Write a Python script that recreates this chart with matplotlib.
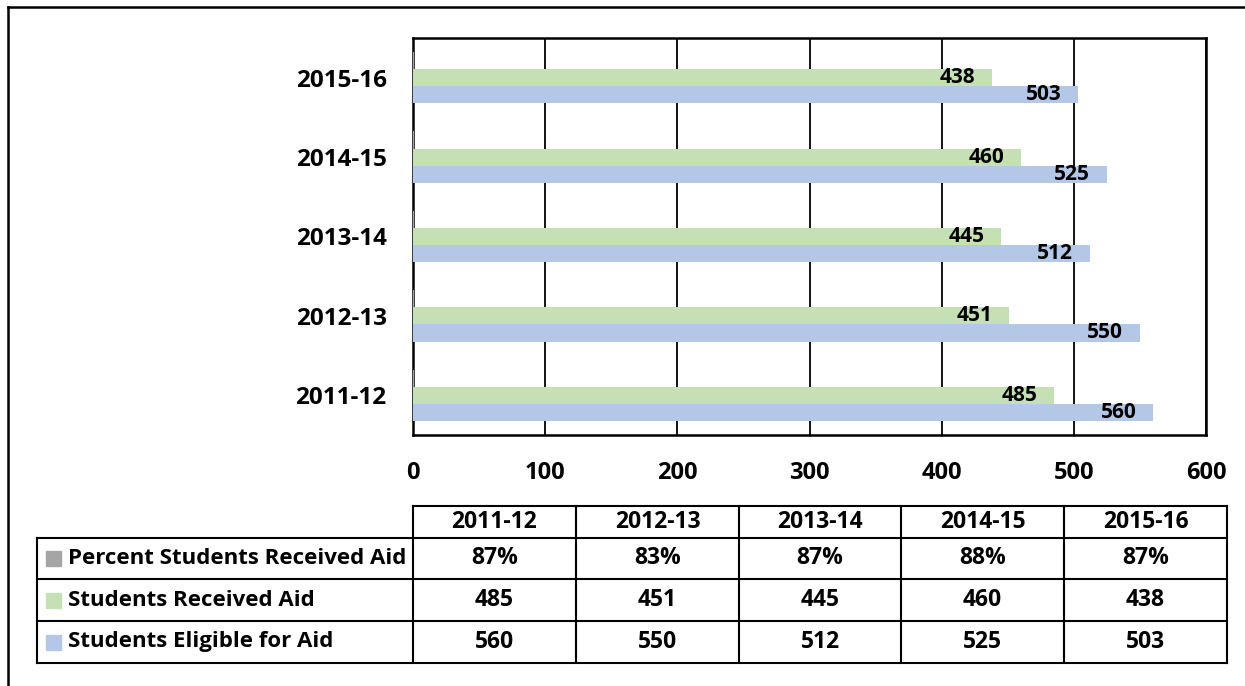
import matplotlib
matplotlib.use("Agg")
import matplotlib.pyplot as plt
from matplotlib.lines import Line2D
from matplotlib.patches import Rectangle

plt.rcParams['font.family'] = ['Open Sans', 'DejaVu Sans']
plt.rcParams['font.weight'] = 'bold'

### data ###
years = ['2011-12', '2012-13', '2013-14', '2014-15', '2015-16']
pct_aid = [0.87, 0.83, 0.87, 0.88, 0.87]
received = [485, 451, 445, 460, 438]
eligible = [560, 550, 512, 525, 503]
pct_labels = ['87%', '83%', '87%', '88%', '87%']

series_names = ['Percent Students Received Aid', 'Students Received Aid', 'Students Eligible for Aid']
c_grey = '#a5a5a5'
c_green = '#c5e0b4'
c_blue = '#b4c7e7'

W, H = 1245, 686
fig = plt.figure(figsize=(W / 100, H / 100), dpi=100)

### bar chart ###
ax = fig.add_axes([413 / W, 1 - 435 / H, 793 / W, 397 / H])
pos = list(range(len(years)))
h = 0.215
ax.barh([p + h for p in pos], pct_aid, height=h, color=c_grey, zorder=3)
b_green = ax.barh(pos, received, height=h, color=c_green, zorder=3)
b_blue = ax.barh([p - h for p in pos], eligible, height=h, color=c_blue, zorder=3)

for bars, vals in [(b_green, received), (b_blue, eligible)]:
    for b, v in zip(bars, vals):
        ax.annotate(str(v), (v, b.get_y() + b.get_height() / 2), xytext=(-12, 0),
                    textcoords='offset points', ha='right', va='center',
                    fontsize=15, fontweight='bold', zorder=4)

ax.set_xlim(0, 600)
ax.set_ylim(-0.5, 4.5)
ax.set_xticks(range(0, 601, 100))
ax.set_yticks(pos)
ax.set_yticklabels(years)
ax.tick_params(axis='y', length=0, labelsize=17.5, pad=19)
ax.tick_params(axis='x', length=0, labelsize=17, pad=19)
for lab in ax.get_xticklabels() + ax.get_yticklabels():
    lab.set_fontweight('bold')
ax.xaxis.grid(True, color='black', linewidth=1.3, zorder=1)
for s in ax.spines.values():
    s.set_linewidth(1.8)
    s.set_color('black')

### data table below the chart ###
tb = fig.add_axes([0, 0, 1, 1], zorder=5)
tb.set_xlim(0, W)
tb.set_ylim(H, 0)
tb.axis('off')

col_x = [413, 576, 739, 901, 1064, 1227]
row_y = [506, 538, 579, 621, 663]
lab_x0 = 37
lw = 1.5

# horizontal lines
tb.plot([col_x[0], col_x[-1]], [row_y[0], row_y[0]], color='black', lw=lw)
for y in row_y[1:]:
    tb.plot([lab_x0, col_x[-1]], [y, y], color='black', lw=lw)
# vertical lines
for x in col_x:
    tb.plot([x, x], [row_y[0], row_y[-1]], color='black', lw=lw)
tb.plot([lab_x0, lab_x0], [row_y[1], row_y[-1]], color='black', lw=lw)

for i, yr in enumerate(years):
    cx = (col_x[i] + col_x[i + 1]) / 2
    tb.text(cx, (row_y[0] + row_y[1]) / 2, yr, ha='center', va='center', fontsize=16.5, fontweight='bold')
    rows = [pct_labels[i], str(received[i]), str(eligible[i])]
    for r, txt in enumerate(rows):
        cy = (row_y[r + 1] + row_y[r + 2]) / 2
        tb.text(cx, cy, txt, ha='center', va='center', fontsize=16.5, fontweight='bold')

for r, (name, col) in enumerate(zip(series_names, [c_grey, c_green, c_blue])):
    cy = (row_y[r + 1] + row_y[r + 2]) / 2
    tb.add_patch(Rectangle((46, cy - 7.5), 15, 15, color=col))
    tb.text(68, cy, name, ha='left', va='center', fontsize=16, fontweight='bold')

# outer frame (only left and top edges are inside the picture)
fig.add_artist(Line2D([8 / W, 8 / W], [0, 1 - 7 / H], color='black', lw=1.8))
fig.add_artist(Line2D([8 / W, 1], [1 - 7 / H, 1 - 7 / H], color='black', lw=1.8))

fig.savefig('out.png', dpi=100)
